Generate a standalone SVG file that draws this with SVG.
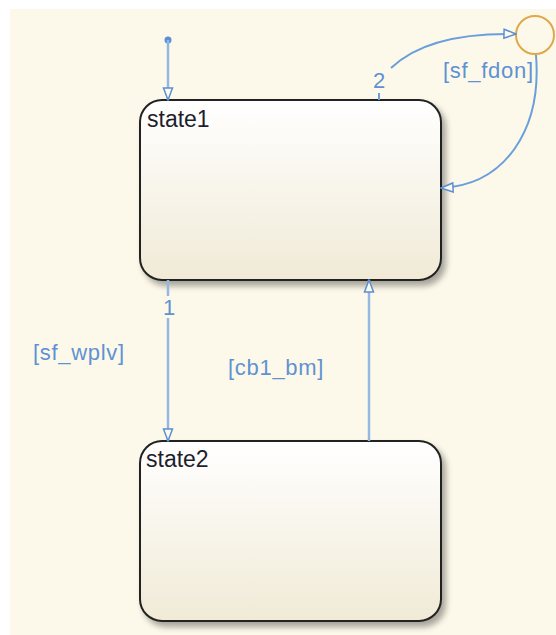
<svg xmlns="http://www.w3.org/2000/svg" width="556" height="635" viewBox="0 0 556 635">
<defs>
<linearGradient id="stg" x1="0" y1="0" x2="0" y2="1">
<stop offset="0" stop-color="#ffffff"/>
<stop offset="1" stop-color="#f0ead6"/>
</linearGradient>
<filter id="sh" x="-10%" y="-10%" width="130%" height="130%">
<feGaussianBlur in="SourceAlpha" stdDeviation="3"/>
<feOffset dx="4" dy="5" result="b"/>
<feComponentTransfer><feFuncA type="linear" slope="0.35"/></feComponentTransfer>
<feMerge><feMergeNode/><feMergeNode in="SourceGraphic"/></feMerge>
</filter>
<marker id="ah" viewBox="0 0 14 12" refX="13" refY="6" markerWidth="14" markerHeight="12" markerUnits="userSpaceOnUse" orient="auto">
<path d="M1,1.5 L13,6 L1,10.5 Z" fill="#fdfaec" stroke="#5b8fd3" stroke-width="1.5"/>
</marker>
</defs>
<style>
.state{fill:url(#stg);stroke:#222;stroke-width:2;filter:url(#sh)}
.sname{font-family:"Liberation Sans",Arial,sans-serif;font-size:23px;fill:#1e1e2e}
.lbl{font-family:"Liberation Sans",Arial,sans-serif;font-size:22px;letter-spacing:0.7px;fill:#5f92d2}
.tr{fill:none;stroke:#93b8e3;stroke-width:2.5}
.tc{fill:none;stroke:#6a9fdc;stroke-width:2}
</style>
<rect x="0" y="0" width="556" height="635" fill="#ffffff"/>
<rect x="10" y="9" width="546" height="626" fill="#fdf9ea"/>
<g id="state1">
<rect class="state" x="140" y="100" width="301" height="180" rx="22" ry="22"/>
<text class="sname" x="147" y="127">state1</text>
</g>
<g id="state2">
<rect class="state" x="140" y="441" width="301" height="180" rx="22" ry="22"/>
<text class="sname" x="146" y="467">state2</text>
</g>
<g id="junction">
<circle cx="535" cy="35" r="19" fill="none" stroke="#e0a84a" stroke-width="2"/>
</g>
<g id="connectors">
<circle cx="168" cy="40" r="3.5" fill="#5b8fd3"/>
<path class="tr" d="M168,40 L168,100" marker-end="url(#ah)"/>
<path class="tr" d="M168,280 L168,296"/>
<path class="tr" d="M168,318 L168,441" marker-end="url(#ah)"/>
<path class="tr" d="M369,441 L369,280" marker-end="url(#ah)"/>
<path class="tc" d="M379,100 L379,93"/>
<path class="tc" d="M391,68 C420,40 470,33 516,34" marker-end="url(#ah)"/>
<path class="tc" d="M536,55 C542,130 505,185 441,188" marker-end="url(#ah)"/>
<text class="lbl" x="163" y="315">1</text>
<text class="lbl" x="373" y="88">2</text>
<text class="lbl" x="33" y="360">[sf_wplv]</text>
<text class="lbl" x="228" y="375">[cb1_bm]</text>
<text class="lbl" x="443" y="78">[sf_fdon]</text>
</g>
</svg>
